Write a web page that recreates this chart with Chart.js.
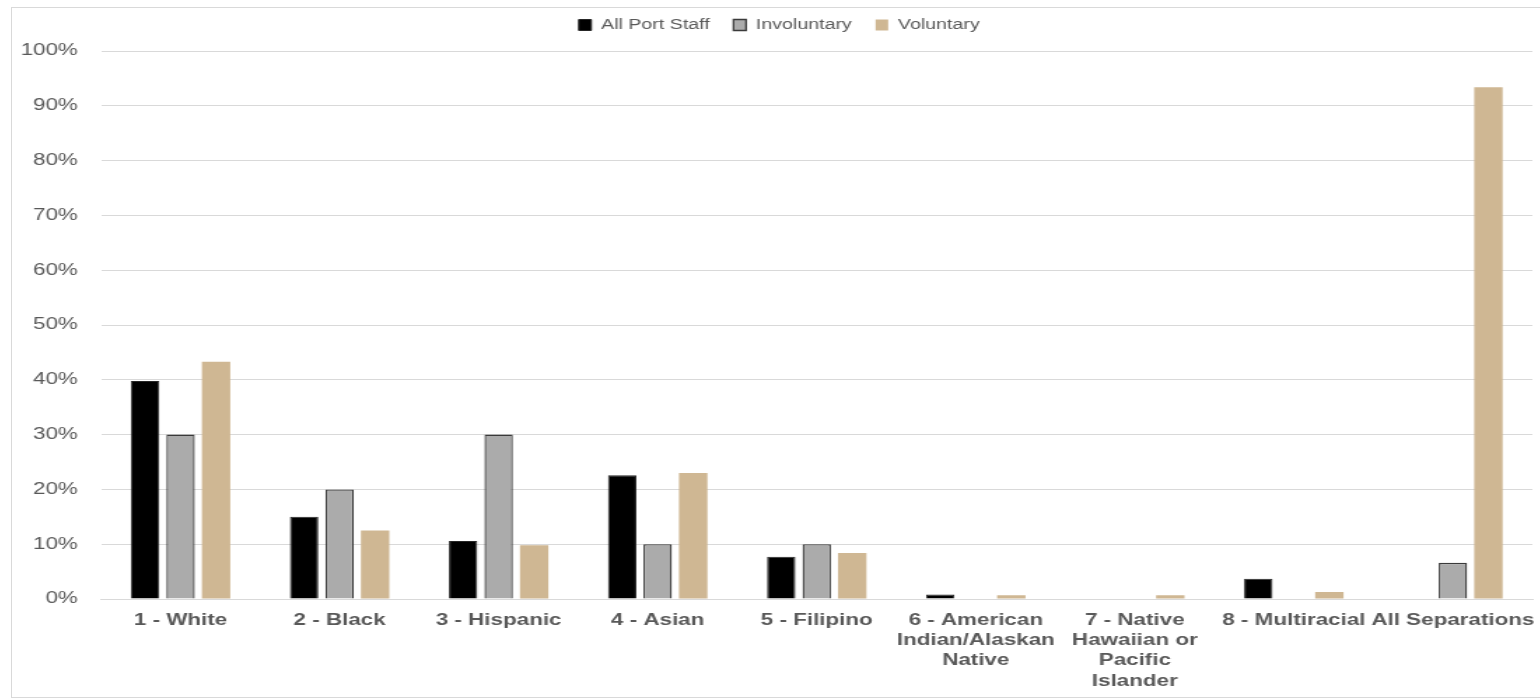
<!DOCTYPE html>
<html>
<head>
<meta charset="utf-8">
<script src="https://cdn.jsdelivr.net/npm/chart.js@4.4.1/dist/chart.umd.min.js"></script>
<style>
  html, body { margin: 0; padding: 0; background: #ffffff; overflow: hidden; }
  #frame {
    position: absolute; left: 11px; top: 7px; width: 1560px; height: 689px;
    border: 1px solid #d9d9d9; background: #fff;
  }
  /* the chart is laid out narrow and widened horizontally */
  #wrap {
    position: absolute; left: 0px; top: 0px; width: 1092px; height: 689px;
    transform: scaleX(1.4); transform-origin: 0 0;
  }
</style>
</head>
<body>
<div id="frame"><div id="wrap"><canvas id="c"></canvas></div></div>
<script>
// Share of staff / separations by race-ethnicity group (percent)
const categories = [
  "1 - White",
  "2 - Black",
  "3 - Hispanic",
  "4 - Asian",
  "5 - Filipino",
  ["6 - American", "Indian/Alaskan", "Native"],
  ["7 - Native", "Hawaiian or", "Pacific", "Islander"],
  "8 - Multiracial",
  "All Separations"
];
const allPortStaff = [39.8, 15.0, 10.6, 22.6, 7.7, 0.8, 0, 3.7, 0];
const involuntary  = [30.0, 20.0, 30.0, 10.0, 10.0, 0, 0, 0, 6.6];
const voluntary    = [43.3, 12.5, 9.8, 23.0, 8.4, 0.7, 0.7, 1.3, 93.4];
const yTicks = [0, 10, 20, 30, 40, 50, 60, 70, 80, 90, 100];

const textGray = "#595959";
const gridGray = "#d9d9d9";
const fontFamily = "'Liberation Sans', Arial, sans-serif";

// extra space below the legend row, and a small nudge of the row to the right
const legendGap = {
  id: "legendGap",
  beforeInit(chart) {
    const legend = chart.legend;
    if (!legend) return;
    const fit = legend.fit;
    legend.fit = function () {
      fit.call(this);
      this.height += 9;
    };
    const draw = legend.draw;
    legend.draw = function () {
      const ctx = this.ctx;
      ctx.save();
      ctx.translate(5, 0);
      draw.call(this);
      ctx.restore();
    };
  }
};

new Chart(document.getElementById("c"), {
  type: "bar",
  plugins: [legendGap],
  data: {
    labels: categories,
    datasets: [
      { label: "All Port Staff", data: allPortStaff, backgroundColor: "#000000",
        borderColor: "#262626", borderWidth: 1 },
      { label: "Involuntary", data: involuntary, backgroundColor: "#ababab",
        borderColor: "#3a3a3a", borderWidth: 1.3 },
      { label: "Voluntary", data: voluntary, backgroundColor: "#cfb793",
        borderColor: "#cfb793", borderWidth: 0 }
    ]
  },
  options: {
    responsive: true,
    maintainAspectRatio: false,
    animation: false,
    categoryPercentage: 0.67,
    barPercentage: 0.8,
    layout: { padding: { top: -7, right: 6, left: 0, bottom: 0 } },
    plugins: {
      tooltip: { enabled: false },
      legend: {
        position: "top",
        labels: {
          boxWidth: 9, boxHeight: 11, padding: 17,
          color: textGray,
          font: { family: fontFamily, size: 14 }
        }
      }
    },
    scales: {
      x: {
        grid: { display: false, drawTicks: false },
        border: { display: true, color: gridGray, width: 1 },
        ticks: {
          autoSkip: false, maxRotation: 0, minRotation: 0, padding: 11,
          color: textGray,
          font: { family: fontFamily, size: 16, weight: "bold", lineHeight: 1.27 }
        },
        afterFit(scale) {
          scale.height = 98;
          scale.paddingLeft = 0;
          scale.paddingRight = 0;
        }
      },
      y: {
        min: 0, max: 100,
        afterBuildTicks(scale) { scale.ticks = yTicks.map(v => ({ value: v })); },
        grid: { color: gridGray, drawTicks: false },
        border: { display: false },
        ticks: {
          padding: 16.5,
          color: textGray,
          font: { family: fontFamily, size: 16 },
          callback: v => v + "%"
        },
        afterFit(scale) { scale.width = 63.6; }
      }
    }
  }
});
</script>
</body>
</html>
